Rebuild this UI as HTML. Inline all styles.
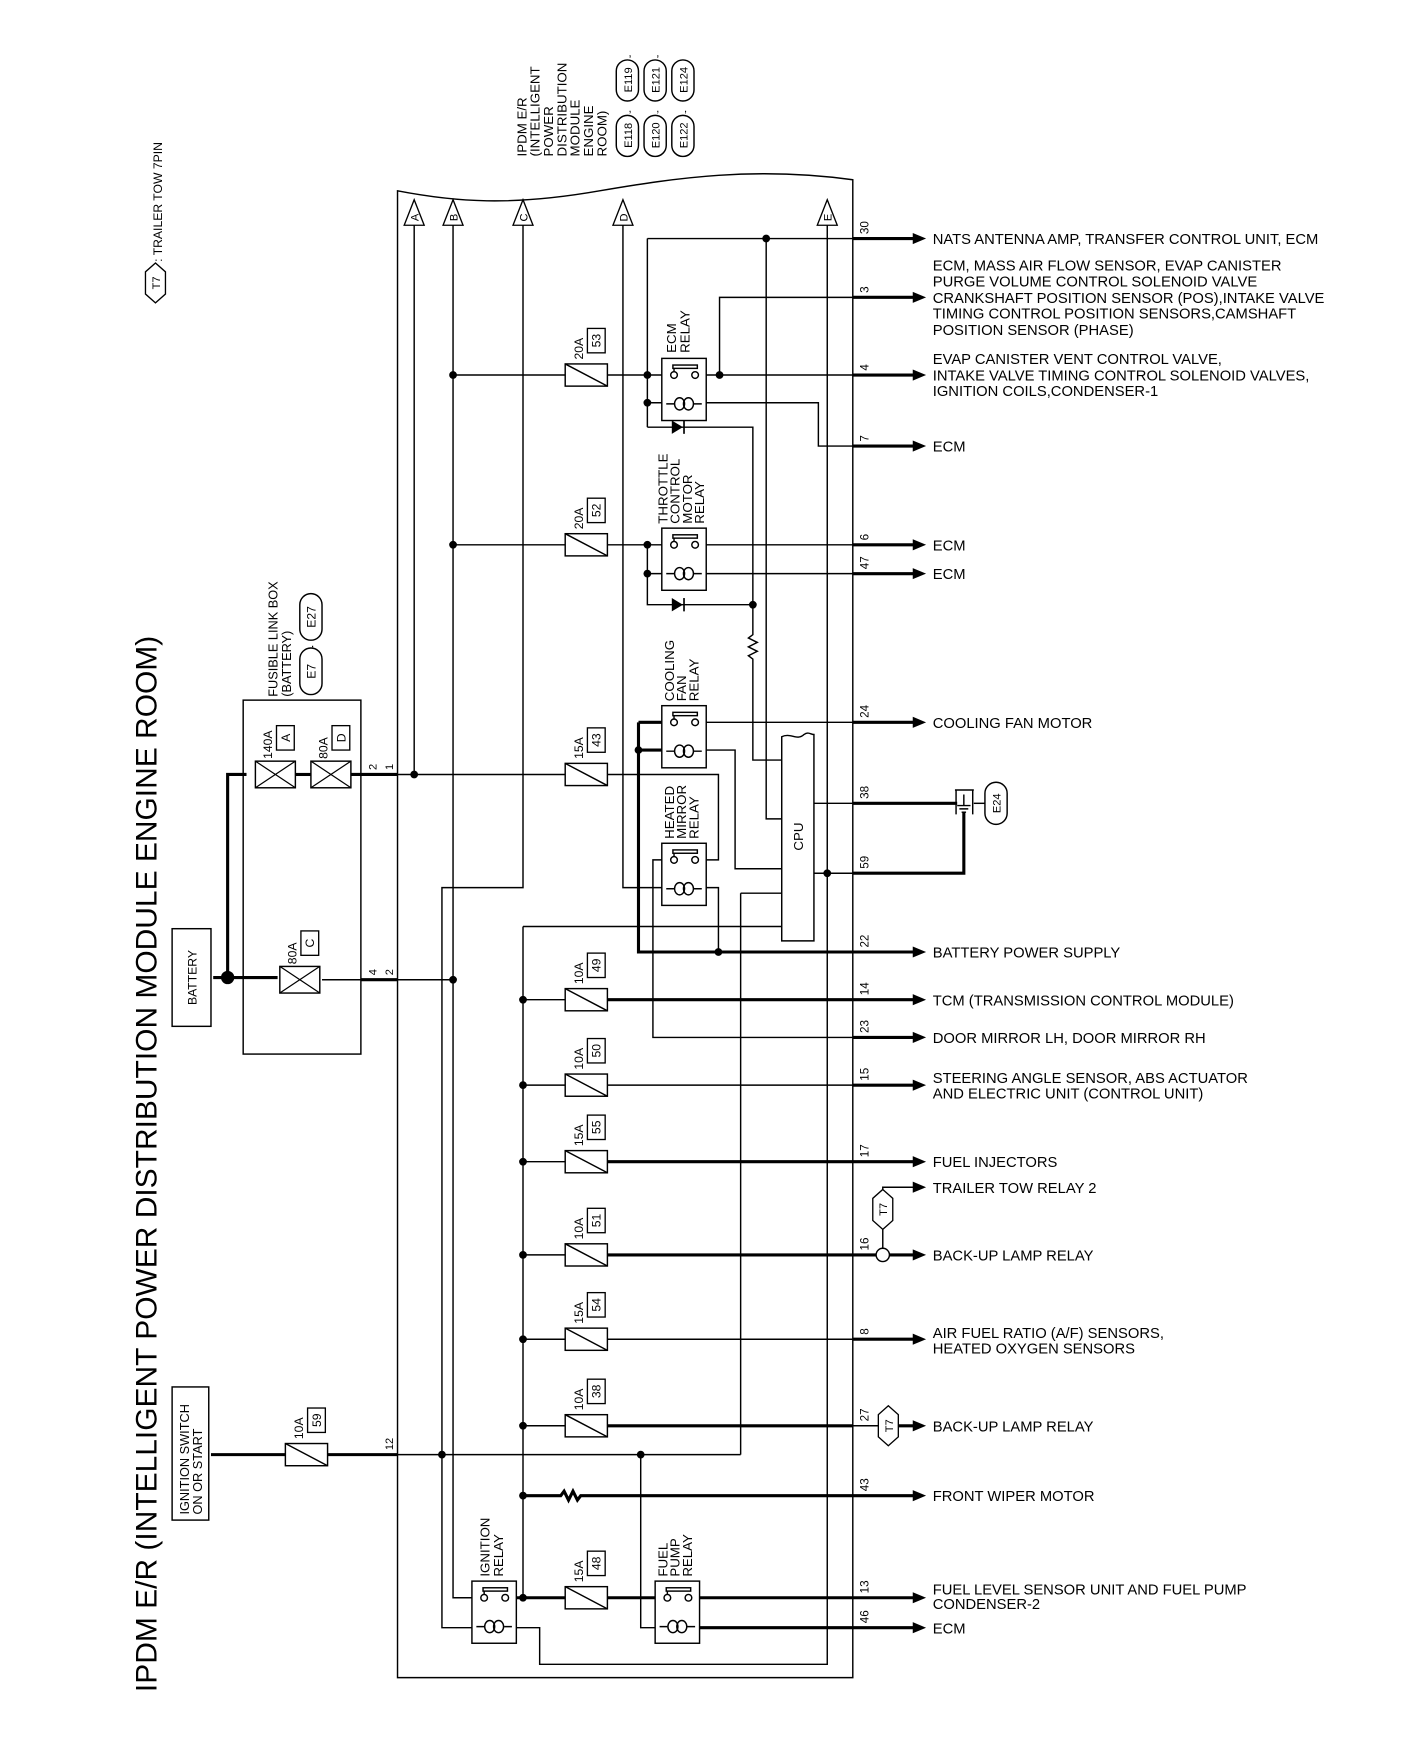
<!DOCTYPE html>
<html><head><meta charset="utf-8"><style>
html,body{margin:0;padding:0;background:#fff;}
svg{display:block;}
text{font-family:"Liberation Sans",Arial,sans-serif;fill:#000;}
</style></head><body>
<svg width="1408" height="1742" viewBox="0 0 1268 1570" preserveAspectRatio="none" xmlns="http://www.w3.org/2000/svg">
<defs>
<g id="fuse"><rect x="-19" y="-10" width="38" height="20" fill="#fff" stroke="#000" stroke-width="1.3"/><line x1="-19" y1="-10" x2="19" y2="10" stroke="#000" stroke-width="1.3"/></g>
<g id="flink"><rect x="-18" y="-12" width="36" height="24" fill="#fff" stroke="#000" stroke-width="1.3"/><path d="M-18,-12 L18,12 M-18,12 L18,-12" stroke="#000" stroke-width="1.1"/></g>
<g id="relay" fill="none" stroke="#000" stroke-width="1.3">
<rect x="0" y="0" width="40" height="56" fill="#fff"/>
<rect x="10" y="6" width="22" height="3"/>
<line x1="11" y1="9" x2="11" y2="12"/>
<circle cx="11" cy="15" r="3" fill="#fff"/><circle cx="30" cy="15" r="3" fill="#fff"/>
<path d="M4,41 L11,41 M29,41 L36,41"/>
<ellipse cx="16" cy="41" rx="4.5" ry="5.5"/><ellipse cx="24" cy="41" rx="4.5" ry="5.5"/>
</g>
<g id="hex"><polygon points="0,-18 9,-10 9,10 0,18 -9,10 -9,-10" fill="#fff" stroke="#000" stroke-width="1.2"/></g>
<g id="arr"><polygon points="-10,-5 2,0 -10,5" fill="#000"/></g>
</defs>

<text transform="translate(141,1525) rotate(-90)" font-size="27" textLength="952" lengthAdjust="spacingAndGlyphs">IPDM E/R (INTELLIGENT POWER DISTRIBUTION MODULE ENGINE ROOM)</text>
<use href="#hex" x="140" y="255"/>
<text transform="translate(144,255) rotate(-90)" font-size="10" text-anchor="middle">T7</text>
<text transform="translate(146,236) rotate(-90)" font-size="11">: TRAILER TOW 7PIN</text>

<g font-size="12">
<text transform="translate(474,141) rotate(-90)">IPDM E/R</text>
<text transform="translate(486,141) rotate(-90)">(INTELLIGENT</text>
<text transform="translate(498,141) rotate(-90)">POWER</text>
<text transform="translate(510,141) rotate(-90)">DISTRIBUTION</text>
<text transform="translate(522,141) rotate(-90)">MODULE</text>
<text transform="translate(534,141) rotate(-90)">ENGINE</text>
<text transform="translate(546,141) rotate(-90)">ROOM)</text>
</g>
<g fill="#fff" stroke="#000" stroke-width="1.3">
<rect x="555" y="104" width="20" height="37" rx="10"/><rect x="555" y="54" width="20" height="37" rx="10"/>
<rect x="580" y="104" width="20" height="37" rx="10"/><rect x="580" y="54" width="20" height="37" rx="10"/>
<rect x="605" y="104" width="20" height="37" rx="10"/><rect x="605" y="54" width="20" height="37" rx="10"/>
</g>
<g font-size="10" text-anchor="middle">
<text transform="translate(569,122) rotate(-90)">E118</text><text transform="translate(569,72) rotate(-90)">E119</text>
<text transform="translate(594,122) rotate(-90)">E120</text><text transform="translate(594,72) rotate(-90)">E121</text>
<text transform="translate(619,122) rotate(-90)">E122</text><text transform="translate(619,72) rotate(-90)">E124</text>
</g>
<g font-size="10"><text x="566" y="101">,</text><text x="591" y="101">,</text><text x="616" y="101">,</text><text x="566" y="51">,</text><text x="591" y="51">,</text></g>

<path d="M358,172 C410,182 460,186 540,172 C610,160 680,150 768,162 L768,1512 L358,1512 Z" fill="none" stroke="#000" stroke-width="1.3"/>

<g fill="#fff" stroke="#000" stroke-width="1.2">
<polygon points="364,203 373,180 382,203"/><polygon points="399,203 408,180 417,203"/>
<polygon points="462,203 471,180 480,203"/><polygon points="552,203 561,180 570,203"/>
<polygon points="736,203 745,180 754,203"/>
</g>
<g font-size="10" text-anchor="middle">
<text transform="translate(377,196) rotate(-90)">A</text><text transform="translate(412,196) rotate(-90)">B</text>
<text transform="translate(475,196) rotate(-90)">C</text><text transform="translate(565,196) rotate(-90)">D</text>
<text transform="translate(749,196) rotate(-90)">E</text>
</g>

<g fill="none" stroke="#000" stroke-width="1.3">
<path d="M373,203 V698"/>
<path d="M408,203 V1440 H436"/>
<path d="M471,203 V800 H398 V1467 H436"/>
<path d="M561,203 V800 H607"/>
<path d="M745,203 V1500 H486 V1467 H461"/>
<path d="M408,338 H509 M547,338 H607 M626,338 H768"/>
<path d="M648,338 V268 H768"/>
<path d="M583,215 H768 M583,215 V385 M583,363 H600"/>
<path d="M632,363 H737 V402 H768"/>
<path d="M583,385 H678 V545"/>
<path d="M690,215 V738 H704"/>
<path d="M678,545 V572 l-4,3 l8,4 l-8,4 l8,4 l-8,4 l4,3 V685 H704"/>
<path d="M408,491 H509 M547,491 H607 M626,491 H768"/>
<path d="M583,491 V545 H678 M583,517 H600 M632,517 H768"/>
<path d="M626,651 H768 M632,676 H662 V783 H704"/>
<path d="M373,698 H509 M547,698 H647 V775 H626"/>
<path d="M607,775 H588 V935 H768"/>
<path d="M632,800 H647 V858"/>
<path d="M471,835 H704 M667,805 H704 M667,805 V1311"/>
<path d="M733,724 H768 M733,787 H768"/>
<path d="M471,835 V1440"/>
<path d="M547,978 H768 M547,1207 H768"/>
<path d="M471,978 H509 M471,1207 H509 M471,901 H509 M471,1047 H509 M471,1131 H509 M471,1285 H509"/>
<path d="M358,1311 H667"/>
<path d="M577,1311 V1467 H596 M577,1440 H600"/>
<path d="M290,883 H408"/>
<path d="M358,698 H373"/>
</g>
<g fill="none" stroke="#000" stroke-width="2.8">
<path d="M575,651 V858 H768 M575,651 H600"/>
<path d="M575,676 H600"/>
<path d="M547,901 H768 M547,1047 H768 M547,1131 H789 M547,1285 H768"/>
<path d="M471,1348 H505 l3,-4 l4,8 l4,-8 l4,8 l3,-4 H768"/>
<path d="M461,1440 H509 M547,1440 H600 M620,1440 H768 M626,1467 H768"/>
<path d="M190,1311 H258 M294,1311 H358"/>
<path d="M192,881 H250 M205,881 V698 H222 M316,698 H358 M325,883 H358"/>
<path d="M768,724 H862 M768,787 H868 V732"/>
<path d="M768,215 H825 M768,268 H825 M768,338 H825 M768,402 H825 M768,491 H825 M768,517 H825 M768,651 H825 M768,858 H825 M768,901 H825 M768,935 H825 M768,978 H825 M768,1047 H825 M801,1131 H825 M768,1207 H825 M809,1285 H825 M768,1348 H825 M768,1440 H825 M768,1467 H825"/>
<path d="M266,698 H280"/>
</g>
<g fill="none" stroke="#000" stroke-width="1.3"><path d="M768,1285 H791 M795,1108 V1125 M795,1072 V1070 H825"/></g>

<g>
<use href="#arr" x="832" y="215"/><use href="#arr" x="832" y="268"/><use href="#arr" x="832" y="338"/><use href="#arr" x="832" y="402"/>
<use href="#arr" x="832" y="491"/><use href="#arr" x="832" y="517"/><use href="#arr" x="832" y="651"/><use href="#arr" x="832" y="858"/>
<use href="#arr" x="832" y="901"/><use href="#arr" x="832" y="935"/><use href="#arr" x="832" y="978"/><use href="#arr" x="832" y="1047"/>
<use href="#arr" x="832" y="1070"/><use href="#arr" x="832" y="1131"/><use href="#arr" x="832" y="1207"/><use href="#arr" x="832" y="1285"/>
<use href="#arr" x="832" y="1348"/><use href="#arr" x="832" y="1440"/><use href="#arr" x="832" y="1467"/>
</g>

<use href="#relay" x="596" y="323"/>
<use href="#relay" x="596" y="476"/>
<use href="#relay" x="596" y="636"/>
<use href="#relay" x="596" y="760"/>
<use href="#relay" x="425" y="1425"/>
<use href="#relay" x="590" y="1425"/>

<polygon points="605,379 605,391 615,385" fill="#000"/><line x1="616" y1="379" x2="616" y2="391" stroke="#000" stroke-width="1.5"/>
<polygon points="605,539 605,551 615,545" fill="#000"/><line x1="616" y1="539" x2="616" y2="551" stroke="#000" stroke-width="1.5"/>

<path d="M704,848 V664 C712,660 718,668 724,662 C728,659 730,662 733,662 V848 Z" fill="#fff" stroke="#000" stroke-width="1.3"/>
<text transform="translate(723,754) rotate(-90)" font-size="12" text-anchor="middle">CPU</text>

<g>
<use href="#fuse" x="528" y="338"/><use href="#fuse" x="528" y="491"/><use href="#fuse" x="528" y="698"/>
<use href="#fuse" x="528" y="901"/><use href="#fuse" x="528" y="978"/><use href="#fuse" x="528" y="1047"/>
<use href="#fuse" x="528" y="1131"/><use href="#fuse" x="528" y="1207"/><use href="#fuse" x="528" y="1285"/>
<use href="#fuse" x="528" y="1440"/><use href="#fuse" x="276" y="1311"/>
<use href="#flink" x="248" y="698"/><use href="#flink" x="298" y="698"/><use href="#flink" x="270" y="883"/>
</g>
<g fill="#fff" stroke="#000" stroke-width="1.2">
<rect x="529" y="296" width="16" height="22"/><rect x="529" y="449" width="16" height="22"/><rect x="529" y="656" width="16" height="22"/>
<rect x="529" y="859" width="16" height="22"/><rect x="529" y="936" width="16" height="22"/><rect x="529" y="1005" width="16" height="22"/>
<rect x="529" y="1089" width="16" height="22"/><rect x="529" y="1165" width="16" height="22"/><rect x="529" y="1243" width="16" height="22"/>
<rect x="529" y="1398" width="16" height="22"/><rect x="277" y="1269" width="16" height="22"/>
<rect x="249" y="654" width="16" height="22"/><rect x="299" y="654" width="16" height="22"/><rect x="271" y="839" width="16" height="22"/>
</g>
<g font-size="11">
<text transform="translate(525,324) rotate(-90)">20A</text><text transform="translate(541,307) rotate(-90)" text-anchor="middle">53</text>
<text transform="translate(525,477) rotate(-90)">20A</text><text transform="translate(541,460) rotate(-90)" text-anchor="middle">52</text>
<text transform="translate(525,684) rotate(-90)">15A</text><text transform="translate(541,667) rotate(-90)" text-anchor="middle">43</text>
<text transform="translate(525,887) rotate(-90)">10A</text><text transform="translate(541,870) rotate(-90)" text-anchor="middle">49</text>
<text transform="translate(525,964) rotate(-90)">10A</text><text transform="translate(541,947) rotate(-90)" text-anchor="middle">50</text>
<text transform="translate(525,1033) rotate(-90)">15A</text><text transform="translate(541,1016) rotate(-90)" text-anchor="middle">55</text>
<text transform="translate(525,1117) rotate(-90)">10A</text><text transform="translate(541,1100) rotate(-90)" text-anchor="middle">51</text>
<text transform="translate(525,1193) rotate(-90)">15A</text><text transform="translate(541,1176) rotate(-90)" text-anchor="middle">54</text>
<text transform="translate(525,1271) rotate(-90)">10A</text><text transform="translate(541,1254) rotate(-90)" text-anchor="middle">38</text>
<text transform="translate(525,1426) rotate(-90)">15A</text><text transform="translate(541,1409) rotate(-90)" text-anchor="middle">48</text>
<text transform="translate(273,1297) rotate(-90)">10A</text><text transform="translate(289,1280) rotate(-90)" text-anchor="middle">59</text>
<text transform="translate(245,684) rotate(-90)">140A</text><text transform="translate(261,665) rotate(-90)" text-anchor="middle">A</text>
<text transform="translate(295,684) rotate(-90)">80A</text><text transform="translate(311,665) rotate(-90)" text-anchor="middle">D</text>
<text transform="translate(267,869) rotate(-90)">80A</text><text transform="translate(283,850) rotate(-90)" text-anchor="middle">C</text>
</g>

<g font-size="12">
<text transform="translate(609,318) rotate(-90)">ECM</text><text transform="translate(621,318) rotate(-90)">RELAY</text>
<text transform="translate(601,472) rotate(-90)">THROTTLE</text><text transform="translate(612,472) rotate(-90)">CONTROL</text><text transform="translate(623,472) rotate(-90)">MOTOR</text><text transform="translate(634,472) rotate(-90)">RELAY</text>
<text transform="translate(607,632) rotate(-90)">COOLING</text><text transform="translate(618,632) rotate(-90)">FAN</text><text transform="translate(629,632) rotate(-90)">RELAY</text>
<text transform="translate(607,756) rotate(-90)">HEATED</text><text transform="translate(618,756) rotate(-90)">MIRROR</text><text transform="translate(629,756) rotate(-90)">RELAY</text>
<text transform="translate(441,1421) rotate(-90)">IGNITION</text><text transform="translate(453,1421) rotate(-90)">RELAY</text>
<text transform="translate(601,1421) rotate(-90)">FUEL</text><text transform="translate(612,1421) rotate(-90)">PUMP</text><text transform="translate(623,1421) rotate(-90)">RELAY</text>
</g>

<g fill="#000">
<circle cx="408" cy="338" r="3.5"/><circle cx="583" cy="338" r="3.5"/><circle cx="648" cy="338" r="3.5"/><circle cx="583" cy="363" r="3.5"/>
<circle cx="690" cy="215" r="3.5"/><circle cx="408" cy="491" r="3.5"/><circle cx="583" cy="491" r="3.5"/><circle cx="583" cy="517" r="3.5"/>
<circle cx="678" cy="545" r="3.5"/><circle cx="575" cy="676" r="3.5"/><circle cx="373" cy="698" r="3.5"/><circle cx="745" cy="787" r="3.5"/>
<circle cx="647" cy="858" r="3.5"/><circle cx="408" cy="883" r="3.5"/><circle cx="205" cy="881" r="6"/>
<circle cx="471" cy="901" r="3.5"/><circle cx="471" cy="978" r="3.5"/><circle cx="471" cy="1047" r="3.5"/><circle cx="471" cy="1131" r="3.5"/>
<circle cx="471" cy="1207" r="3.5"/><circle cx="471" cy="1285" r="3.5"/><circle cx="471" cy="1348" r="3.5"/><circle cx="471" cy="1440" r="3.5"/>
<circle cx="398" cy="1311" r="3.5"/><circle cx="577" cy="1311" r="3.5"/>
</g>

<rect x="219" y="631" width="106" height="319" fill="none" stroke="#000" stroke-width="1.3"/>
<rect x="155" y="837" width="35" height="88" fill="none" stroke="#000" stroke-width="1.3"/>
<text transform="translate(177,881) rotate(-90)" font-size="11" text-anchor="middle">BATTERY</text>
<rect x="155" y="1250" width="33" height="120" fill="none" stroke="#000" stroke-width="1.3"/>
<text transform="translate(170,1365) rotate(-90)" font-size="11.5">IGNITION SWITCH</text>
<text transform="translate(182,1365) rotate(-90)" font-size="11.5">ON OR START</text>
<text transform="translate(250,628) rotate(-90)" font-size="11.5">FUSIBLE LINK BOX</text>
<text transform="translate(262,628) rotate(-90)" font-size="11.5">(BATTERY)</text>
<rect x="270" y="584" width="20" height="42" rx="10" fill="#fff" stroke="#000" stroke-width="1.3"/>
<rect x="270" y="535" width="20" height="42" rx="10" fill="#fff" stroke="#000" stroke-width="1.3"/>
<text transform="translate(284,605) rotate(-90)" font-size="11" text-anchor="middle">E7</text>
<text transform="translate(284,556) rotate(-90)" font-size="11" text-anchor="middle">E27</text>
<text x="280" y="583" font-size="11">,</text>
<g font-size="10">
<text transform="translate(339,694) rotate(-90)">2</text><text transform="translate(354,694) rotate(-90)">1</text>
<text transform="translate(339,879) rotate(-90)">4</text><text transform="translate(354,879) rotate(-90)">2</text>
<text transform="translate(354,1307) rotate(-90)">12</text>
</g>

<g font-size="10.5">
<text transform="translate(782,211) rotate(-90)">30</text><text transform="translate(782,264) rotate(-90)">3</text>
<text transform="translate(782,334) rotate(-90)">4</text><text transform="translate(782,398) rotate(-90)">7</text>
<text transform="translate(782,487) rotate(-90)">6</text><text transform="translate(782,513) rotate(-90)">47</text>
<text transform="translate(782,647) rotate(-90)">24</text><text transform="translate(782,720) rotate(-90)">38</text>
<text transform="translate(782,783) rotate(-90)">59</text><text transform="translate(782,854) rotate(-90)">22</text>
<text transform="translate(782,897) rotate(-90)">14</text><text transform="translate(782,931) rotate(-90)">23</text>
<text transform="translate(782,974) rotate(-90)">15</text><text transform="translate(782,1043) rotate(-90)">17</text>
<text transform="translate(782,1127) rotate(-90)">16</text><text transform="translate(782,1203) rotate(-90)">8</text>
<text transform="translate(782,1281) rotate(-90)">27</text><text transform="translate(782,1344) rotate(-90)">43</text>
<text transform="translate(782,1436) rotate(-90)">13</text><text transform="translate(782,1463) rotate(-90)">46</text>
</g>

<g fill="none" stroke="#000" stroke-width="1.3">
<path d="M860,712 H877 M861,712 V734 M876,712 V734 M868,716 V726 M862,726 H874 M864,729 H872 M866,732 H870"/>
<path d="M877,724 H887"/>
<rect x="887" y="705" width="20" height="38" rx="10" fill="#fff"/>
</g>
<text transform="translate(901,724) rotate(-90)" font-size="10" text-anchor="middle">E24</text>

<circle cx="795" cy="1131" r="6" fill="#fff" stroke="#000" stroke-width="1.3"/>
<use href="#hex" x="795" y="1090"/>
<text transform="translate(799,1090) rotate(-90)" font-size="10" text-anchor="middle">T7</text>
<use href="#hex" x="800" y="1285"/>
<text transform="translate(804,1285) rotate(-90)" font-size="10" text-anchor="middle">T7</text>

<g font-size="13.3">
<text x="840" y="220">NATS ANTENNA AMP, TRANSFER CONTROL UNIT, ECM</text>
<text x="840" y="244">ECM, MASS AIR FLOW SENSOR, EVAP CANISTER</text>
<text x="840" y="258">PURGE VOLUME CONTROL SOLENOID VALVE</text>
<text x="840" y="273">CRANKSHAFT POSITION SENSOR (POS),INTAKE VALVE</text>
<text x="840" y="287">TIMING CONTROL POSITION SENSORS,CAMSHAFT</text>
<text x="840" y="302">POSITION SENSOR (PHASE)</text>
<text x="840" y="328">EVAP CANISTER VENT CONTROL VALVE,</text>
<text x="840" y="343">INTAKE VALVE TIMING CONTROL SOLENOID VALVES,</text>
<text x="840" y="357">IGNITION COILS,CONDENSER-1</text>
<text x="840" y="407">ECM</text>
<text x="840" y="496">ECM</text>
<text x="840" y="522">ECM</text>
<text x="840" y="656">COOLING FAN MOTOR</text>
<text x="840" y="863">BATTERY POWER SUPPLY</text>
<text x="840" y="906">TCM (TRANSMISSION CONTROL MODULE)</text>
<text x="840" y="940">DOOR MIRROR LH, DOOR MIRROR RH</text>
<text x="840" y="976">STEERING ANGLE SENSOR, ABS ACTUATOR</text>
<text x="840" y="990">AND ELECTRIC UNIT (CONTROL UNIT)</text>
<text x="840" y="1052">FUEL INJECTORS</text>
<text x="840" y="1075">TRAILER TOW RELAY 2</text>
<text x="840" y="1136">BACK-UP LAMP RELAY</text>
<text x="840" y="1206">AIR FUEL RATIO (A/F) SENSORS,</text>
<text x="840" y="1220">HEATED OXYGEN SENSORS</text>
<text x="840" y="1290">BACK-UP LAMP RELAY</text>
<text x="840" y="1353">FRONT WIPER MOTOR</text>
<text x="840" y="1437">FUEL LEVEL SENSOR UNIT AND FUEL PUMP</text>
<text x="840" y="1450">CONDENSER-2</text>
<text x="840" y="1472">ECM</text>
</g>
</svg>
</body></html>
